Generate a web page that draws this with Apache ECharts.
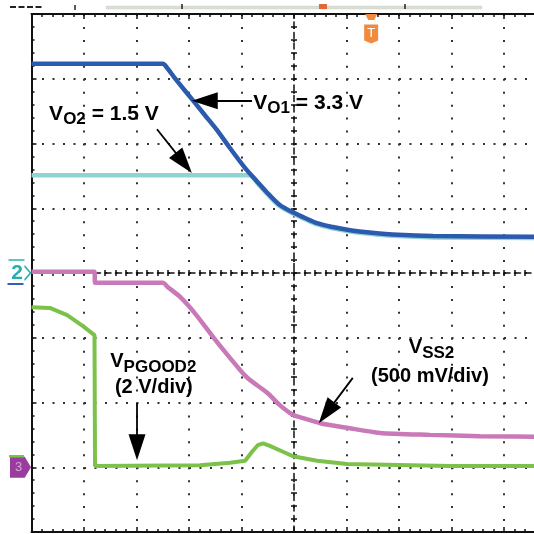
<!DOCTYPE html>
<html>
<head>
<meta charset="utf-8">
<script src="https://cdn.jsdelivr.net/npm/echarts@6/dist/echarts.min.js"></script>
<style>
html, body { margin: 0; padding: 0; background: #fff; }
#scope { width: 534px; height: 534px; }
</style>
</head>
<body>
<div id="scope"></div>
<script>
// x = time in divisions from screen centre, y = divisions from centre line
var vo1 = [
  [-5, 3.23], [-2.5, 3.23], [-2.42, 3.17], [-2.27, 3.01], [-1.98, 2.72], [-1.7, 2.44],
  [-1.47, 2.21], [-1.22, 1.93], [-0.93, 1.62], [-0.7, 1.41], [-0.51, 1.24], [-0.27, 1.05],
  [0, 0.93], [0.21, 0.85], [0.44, 0.77], [0.74, 0.71], [1.07, 0.66], [1.39, 0.63],
  [1.98, 0.59], [2.65, 0.57], [4.55, 0.56], [5, 0.56]
];
var vo2 = [
  [-5, 1.51], [-0.85, 1.51], [-0.7, 1.39], [-0.51, 1.22], [-0.27, 1.03], [0, 0.91],
  [0.21, 0.83], [0.44, 0.75], [0.74, 0.69], [1.07, 0.64], [1.39, 0.61], [1.98, 0.57],
  [2.65, 0.55], [4.55, 0.54], [5, 0.54]
];
var vss2 = [
  [-5, 0.02], [-3.8, 0.02], [-3.79, -0.15], [-2.5, -0.15], [-2.4, -0.22], [-2.17, -0.37],
  [-1.89, -0.62], [-1.54, -0.99], [-1.22, -1.31], [-0.9, -1.61], [-0.51, -1.85],
  [-0.27, -2.04], [-0.02, -2.19], [0.21, -2.25], [0.5, -2.32], [1.01, -2.39],
  [1.64, -2.47], [2.59, -2.5], [3.54, -2.52], [5, -2.53]
];
var vpgood2 = [
  [-5, -0.53], [-4.65, -0.54], [-4.32, -0.65], [-4.02, -0.82], [-3.8, -0.96], [-3.79, -2.98],
  [-1.79, -2.97], [-1.22, -2.93], [-0.93, -2.9], [-0.8, -2.76], [-0.69, -2.66],
  [-0.59, -2.63], [-0.46, -2.67], [-0.21, -2.76], [-0.02, -2.83], [0.44, -2.9],
  [1.01, -2.95], [2.97, -2.98], [5, -2.98]
];
var channelLevels = [0, -3.0];   // ch2 marker, ch3 ground marker
var triggerTime = 1.47;

var chartDom = document.getElementById('scope');
var myChart = echarts.init(chartDom, null, { renderer: 'canvas', devicePixelRatio: 1, width: 534, height: 534 });

var FONT = '"Liberation Sans", Arial, sans-serif';
var ink = '#111';
var L = 31.5, T = 14, W = 525, H = 518;

function tickAxis(grid, pos, min, max, lineType, showLine) {
  return {
    type: 'value', gridIndex: grid, min: min, max: max, interval: 1, position: pos,
    axisLine: { show: showLine, onZero: false, lineStyle: { color: ink, width: lineType === 'solid' ? 2 : 1.5, type: lineType } },
    axisTick: { inside: true, length: lineType === 'solid' ? 5 : 3, lineStyle: { color: ink, width: 1.5 } },
    minorTick: { show: true, splitNumber: 5, length: 3, lineStyle: { color: ink, width: 1.5 } },
    axisLabel: { show: false },
    splitLine: { show: false }
  };
}
function blankAxis(grid, min, max) {
  return { type: 'value', gridIndex: grid, min: min, max: max, show: false };
}
function box(left, top, width, height) {
  return { left: left, top: top, width: width, height: height, outerBoundsMode: 'none', containLabel: false };
}

var xMain = tickAxis(0, 'bottom', -5, 5, 'solid', true);
xMain.splitLine = { show: true, lineStyle: { color: '#333', width: 2, type: [2, 10.95] } };
var yMain = tickAxis(0, 'left', -4, 4, 'solid', true);
yMain.splitLine = { show: true, lineStyle: { color: '#333', width: 2, type: [2, 8.5] } };

function sub(v, s, t, big, small) {
  return {
    show: true, position: 'inside', fontFamily: FONT, fontWeight: 'bold', color: '#000',
    formatter: '{v|' + v + '}{s|' + s + '}' + (t ? '{t|' + t + '}' : ''),
    rich: {
      v: { fontSize: big, lineHeight: 28, fontWeight: 'bold', fontFamily: FONT, color: '#000' },
      s: { fontSize: small, lineHeight: 16, padding: [12, 0, 0, 0], fontWeight: 'bold', fontFamily: FONT, color: '#000' },
      t: { fontSize: big, lineHeight: 28, fontWeight: 'bold', fontFamily: FONT, color: '#000' }
    }
  };
}
function plain(text, size) {
  return { show: true, position: 'inside', formatter: text, fontFamily: FONT, fontWeight: 'bold', fontSize: size, color: '#000' };
}
var hidden = { color: 'rgba(0,0,0,0)' };
var ARROW = 'path://M0,0 M26,26 M4.5,26 L13,0 L21.5,26 Z';
function arrow(from, to) {
  return [
    { coord: from, symbol: 'none' },
    { coord: to, symbol: ARROW, symbolSize: 26 }
  ];
}
function trace(data, color, width, smooth, z) {
  return {
    type: 'line', data: data, showSymbol: false, z: z, smooth: smooth,
    lineStyle: { color: color, width: width }
  };
}

var option = {
  animation: false,
  backgroundColor: '#fff',
  grid: [
    box(L, T, W, H),
    box(L, T, W, H / 2),          // upper half: centre line ticks up
    box(L, T + H / 2, W, H / 2),  // lower half: centre line ticks down
    box(L, T, W / 2, H),          // left half: centre line ticks left
    box(L + W / 2, T, W / 2, H)   // right half: centre line ticks right
  ],
  xAxis: [
    xMain,
    tickAxis(0, 'top', -5, 5, 'solid', true),
    tickAxis(1, 'bottom', -5, 5, [6, 4.5], true),
    tickAxis(2, 'top', -5, 5, [6, 4.5], false),
    blankAxis(3, -5, 0),
    blankAxis(4, 0, 5)
  ],
  yAxis: [
    yMain,
    blankAxis(1, 0, 4),
    blankAxis(2, -4, 0),
    tickAxis(3, 'right', -4, 4, [6, 4.5], true),
    tickAxis(4, 'left', -4, 4, [6, 4.5], false)
  ],
  graphic: [
    { type: 'line', shape: { x1: 10, y1: 7, x2: 42, y2: 7 }, style: { stroke: '#222', lineWidth: 2, lineDash: [6, 2.5] } },
    { type: 'rect', shape: { x: 106, y: 6, width: 376, height: 3 }, style: { fill: '#dcdcdc', stroke: '#c8dcb8', lineWidth: 0.5 } },
    { type: 'line', shape: { x1: 75, y1: 5, x2: 75, y2: 10 }, style: { stroke: '#222', lineWidth: 1.5 } },
    { type: 'line', shape: { x1: 182, y1: 4, x2: 182, y2: 9 }, style: { stroke: '#222', lineWidth: 1.5 } },
    { type: 'line', shape: { x1: 405, y1: 4, x2: 405, y2: 9 }, style: { stroke: '#222', lineWidth: 1.5 } },
    { type: 'rect', shape: { x: 319, y: 4, width: 8, height: 5 }, style: { fill: '#e0683a' } }
  ],
  series: [
    trace(vo2, '#8fd4d2', 4.5, 0.3, 2),
    trace(vo1, '#2c5aad', 4.5, 0.3, 3),
    trace(vss2, '#c979b8', 4.5, 0.25, 3),
    trace(vpgood2, '#7cc24a', 4, false, 3),
    {
      // annotations, arrows and screen markers
      type: 'line', data: [], z: 5, color: '#000',
      markLine: {
        silent: true, animation: false,
        symbol: ['none', ARROW],
        symbolSize: 26,
        label: { show: false },
        itemStyle: { color: '#000' },
        lineStyle: { color: '#000', width: 1.8, type: 'solid' },
        emphasis: { disabled: true },
        data: [
          arrow([-0.8, 2.66], [-1.7, 2.66]),
          arrow([-2.61, 2.22], [-2.1, 1.7]),
          arrow([-2.99, -2.01], [-2.99, -2.69]),
          arrow([1.12, -1.62], [0.62, -2.16])
        ]
      },
      markPoint: {
        silent: true, animation: false,
        data: [
          { coord: [-3.62, 2.46], symbol: 'circle', symbolSize: 1, itemStyle: hidden, label: sub('V', 'O2', ' = 1.5 V', 21, 17) },
          { coord: [0.27, 2.63], symbol: 'circle', symbolSize: 1, itemStyle: hidden, label: sub('V', 'O1', ' = 3.3 V', 21, 17) },
          { coord: [-2.68, -1.36], symbol: 'circle', symbolSize: 1, itemStyle: hidden, label: sub('V', 'PGOOD2', '', 20, 17) },
          { coord: [-2.67, -1.77], symbol: 'circle', symbolSize: 1, itemStyle: hidden, label: plain('(2 V/div)', 20) },
          { coord: [2.62, -1.15], symbol: 'circle', symbolSize: 1, itemStyle: hidden, label: sub('V', 'SS2', '', 20, 17) },
          { coord: [2.59, -1.6], symbol: 'circle', symbolSize: 1, itemStyle: hidden, label: plain('(500 mV/div)', 20) },
          // trigger marker
          { coord: [triggerTime, 3.69], symbol: 'path://M0,0 H14 V16 L7,19 L0,16 Z', symbolSize: [14, 19],
            itemStyle: { color: '#f08a3c' },
            label: { show: true, position: 'inside', formatter: 'T', color: '#fff', fontSize: 13, fontFamily: FONT, offset: [0, -1] } },
          { coord: [triggerTime, 4], symbol: 'path://M0,0 H12 L9,6 H3 Z', symbolSize: [12, 6], symbolOffset: [0, 3],
            itemStyle: { color: '#f08a3c' } },
          // channel 2 reference marker
          { coord: [-5, channelLevels[0]], symbol: 'path://M0,0 L6,7 L0,14', symbolSize: [6, 14], symbolOffset: [-4, 0],
            itemStyle: { color: 'none', borderColor: '#2bb0ae', borderWidth: 1.5 },
            label: { show: true, position: 'left', distance: 0, formatter: '2', color: '#2aaead', fontSize: 21, fontWeight: 'bold', fontFamily: FONT } },
          { coord: [-5, channelLevels[0]], symbol: 'rect', symbolSize: [16, 1.5], symbolOffset: [-15, -13],
            itemStyle: { color: '#2bb0ae' } },
          { coord: [-5, channelLevels[0]], symbol: 'rect', symbolSize: [16, 2], symbolOffset: [-16, 11],
            itemStyle: { color: '#3a5fb0' } },
          // channel 3 ground marker
          { coord: [-5, channelLevels[1]], symbol: 'path://M0,0 H14 L20,10 L14,20 H0 Z', symbolSize: [21, 21], symbolOffset: [-11, 0],
            itemStyle: { color: '#9a3c9e' },
            label: { show: true, position: 'inside', formatter: '3', color: 'rgba(255,255,255,0.55)', fontSize: 13, fontFamily: FONT, offset: [-2, 0] } },
          { coord: [-5, channelLevels[1]], symbol: 'rect', symbolSize: [15, 2.5], symbolOffset: [-15, -11],
            itemStyle: { color: '#7cc24a' } }
        ]
      }
    }
  ]
};

option && myChart.setOption(option);
</script>
</body>
</html>
